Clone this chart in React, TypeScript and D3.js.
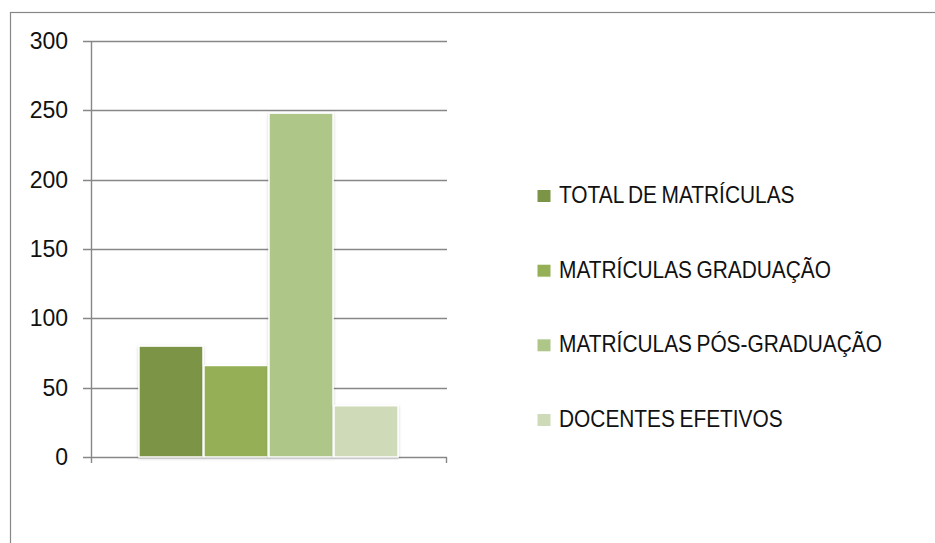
import { useEffect, useRef } from "react";
import * as d3 from "d3";

const series = [
  "TOTAL DE MATRÍCULAS",
  "MATRÍCULAS GRADUAÇÃO",
  "MATRÍCULAS PÓS-GRADUAÇÃO",
  "DOCENTES EFETIVOS",
];
const values = [80, 66, 248, 37];
const colors = ["#7b9445", "#94af55", "#afc689", "#cfdbb8"];
const yTicks = [0, 50, 100, 150, 200, 250, 300];
const groups = [""];

const WIDTH = 935;
const HEIGHT = 543;
const AXIS_STROKE = "#878787";
const FONT = "'Liberation Sans', Arial, sans-serif";

export default function App() {
  const ref = useRef<SVGSVGElement | null>(null);

  useEffect(() => {
    const el = ref.current;
    if (!el) return;
    const svg = d3.select(el);
    svg.selectAll("*").remove();

    // outer chart frame (cropped on the right and bottom)
    svg
      .append("rect")
      .attr("x", 10.5)
      .attr("y", 12.5)
      .attr("width", 1000)
      .attr("height", 1000)
      .attr("fill", "#fff")
      .attr("stroke", AXIS_STROKE)
      .attr("stroke-width", 1.2);

    const plot = { left: 91, right: 446, top: 41, bottom: 457 };

    const y = d3.scaleLinear().domain([0, 300]).range([plot.bottom, plot.top]);
    const x0 = d3
      .scaleBand<string>()
      .domain(groups)
      .range([plot.left, plot.right])
      .paddingOuter(0.185);
    const x1 = d3
      .scaleBand<string>()
      .domain(series)
      .range([0, x0.bandwidth()])
      .paddingInner(0.015);

    // gridlines
    svg
      .append("g")
      .selectAll("line")
      .data(yTicks)
      .join("line")
      .attr("x1", plot.left - 8)
      .attr("x2", plot.right + 1)
      .attr("y1", (d) => Math.round(y(d)) + 0.5)
      .attr("y2", (d) => Math.round(y(d)) + 0.5)
      .attr("stroke", AXIS_STROKE)
      .attr("stroke-width", 1.4);

    // y axis line
    svg
      .append("line")
      .attr("x1", plot.left + 0.5)
      .attr("x2", plot.left + 0.5)
      .attr("y1", plot.top)
      .attr("y2", plot.bottom + 6)
      .attr("stroke", AXIS_STROKE)
      .attr("stroke-width", 1.4);

    // right tick on x axis
    svg
      .append("line")
      .attr("x1", plot.right + 0.5)
      .attr("x2", plot.right + 0.5)
      .attr("y1", plot.bottom)
      .attr("y2", plot.bottom + 6)
      .attr("stroke", AXIS_STROKE)
      .attr("stroke-width", 1.4);

    // y tick labels
    svg
      .append("g")
      .selectAll("text")
      .data(yTicks)
      .join("text")
      .attr("x", 68)
      .attr("y", (d) => y(d))
      .attr("dy", "0.35em")
      .attr("text-anchor", "end")
      .attr("font-family", FONT)
      .attr("font-size", 23)
      .attr("fill", "#111")
      .text((d) => String(d));

    // bar shadow
    const defs = svg.append("defs");
    const filter = defs
      .append("filter")
      .attr("id", "barShadow")
      .attr("x", "-20%")
      .attr("y", "-5%")
      .attr("width", "140%")
      .attr("height", "110%");
    filter
      .append("feDropShadow")
      .attr("dx", 0)
      .attr("dy", 1)
      .attr("stdDeviation", 1.5)
      .attr("flood-color", "#000")
      .attr("flood-opacity", 0.18);

    const g = svg.append("g").attr("transform", `translate(${x0("")},0)`);
    g.selectAll("rect")
      .data(series)
      .join("rect")
      .attr("x", (d) => x1(d)!)
      .attr("y", (_, i) => y(values[i]))
      .attr("width", x1.bandwidth())
      .attr("height", (_, i) => plot.bottom - y(values[i]))
      .attr("fill", (_, i) => colors[i])
      .attr("stroke", "#fff")
      .attr("stroke-width", 1.5)
      .attr("filter", "url(#barShadow)");

    // legend (y = text baseline); text squeezed horizontally like the narrow original font
    const legendY = d3
      .scalePoint<string>()
      .domain(series)
      .range([203, 427]);
    const lg = svg
      .append("g")
      .selectAll("g")
      .data(series)
      .join("g")
      .attr("transform", (d) => `translate(537,${legendY(d)})`);
    lg.append("rect")
      .attr("x", 0)
      .attr("y", -13.5)
      .attr("width", 14)
      .attr("height", 13)
      .attr("fill", (_, i) => colors[i])
      .attr("stroke", "#fff")
      .attr("stroke-width", 1);
    lg.append("text")
      .attr("transform", "translate(22,0) scale(0.87,1)")
      .attr("font-family", FONT)
      .attr("font-size", 24)
      .attr("word-spacing", -1.5)
      .attr("fill", "#111")
      .text((d) => d);
  }, []);

  return (
    <svg
      ref={ref}
      width={WIDTH}
      height={HEIGHT}
      style={{ position: "absolute", left: 0, top: 0, display: "block" }}
    />
  );
}
